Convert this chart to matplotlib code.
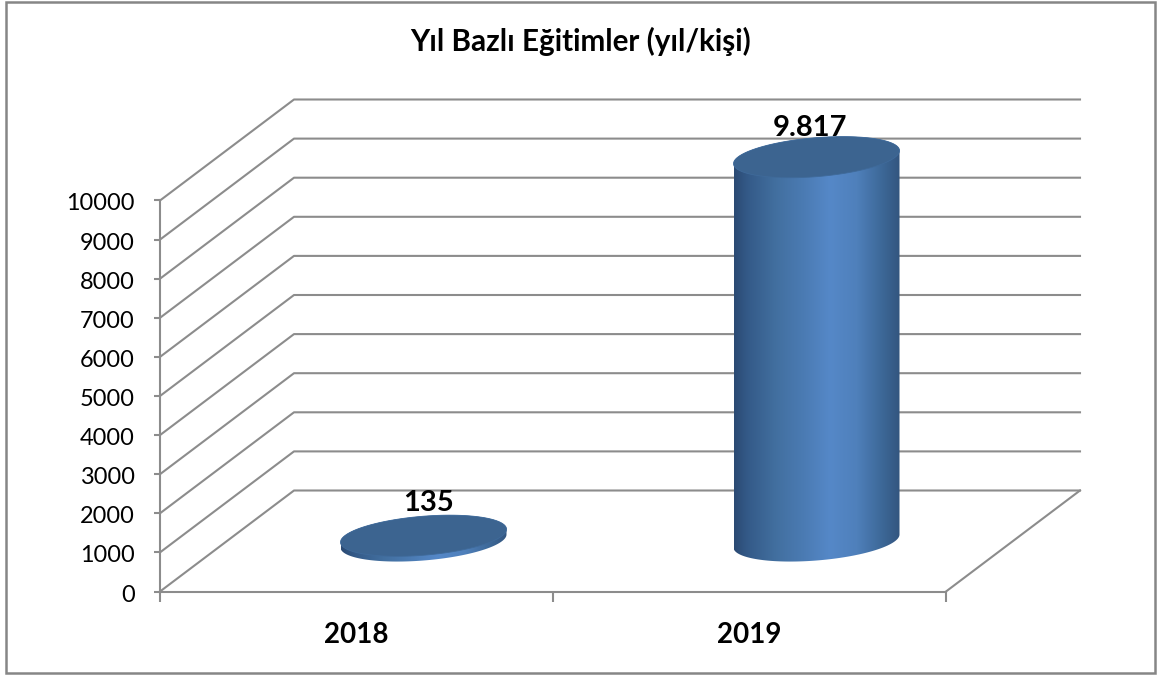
# -*- coding: utf-8 -*-
"""Yil bazli egitimler, 3D looking cylinder bars drawn on a flat axes"""
import numpy as np
import matplotlib
matplotlib.use('Agg')
import matplotlib.pyplot as plt
from matplotlib.colors import to_rgb
from matplotlib.patches import Polygon, Rectangle
from matplotlib.transforms import ScaledTranslation

years = ['2018', '2019']
values = [135, 9817]
value_labels = ['135', '9.817']
y_ticks = [0, 1000, 2000, 3000, 4000, 5000, 6000, 7000, 8000, 9000, 10000]
title = 'Yıl Bazlı Eğitimler (yıl/kişi)'

W, H = 1159, 675
grey = '#8c8c8c'
plt.rcParams['font.family'] = ['Lato', 'DejaVu Sans']

fig = plt.figure(figsize=(W / 100, H / 100), dpi=100)
fig.add_artist(Rectangle((6 / W, 2.5 / H), 1149 / W, 671 / H, transform=fig.transFigure,
                         fill=False, edgecolor='#868686', linewidth=1.8))

# axes = front plane of the chart
ax = fig.add_axes([160 / W, (H - 591.5) / H, 786 / W, 391 / H])
ax.set_facecolor('none')

px = 2 / 786  # x units per pixel
py = 10000 / 391  # y units per pixel
depth_x = 134 * px
depth_y = 101 * py

# walls and floor
for v in y_ticks:
    ax.plot([0, depth_x, 2 + depth_x], [v, v + depth_y, v + depth_y],
            color=grey, lw=1.5, clip_on=False, zorder=1)
ax.plot([2, 2 + depth_x], [0, depth_y], color=grey, lw=1.5, clip_on=False, zorder=1)

# gradient across the body of a cylinder
stops = [0, 0.08, 0.25, 0.42, 0.58, 0.74, 0.9, 1]
cols = [to_rgb(c) for c in ['#2b4a73', '#345a88', '#426f9f', '#4b7bb3', '#5588c8',
                            '#4f80bb', '#3c6796', '#33557f']]
g = np.linspace(0, 1, 256)
grad = np.array([[np.interp(s, stops, [c[i] for c in cols]) for i in range(3)] for s in g])[None, :, :]

half_w = 83 * px
skew = 6.5 * py
minor = 19.5 * py
t = np.linspace(0, 2 * np.pi, 241)


def ellipse(cx, cy):
    return np.column_stack([cx + half_w * np.cos(t),
                            cy + skew * np.cos(t) + minor * np.sin(t)])


label_offset = [33, 29]
for i, (val, lab) in enumerate(zip(values, value_labels)):
    cx = i + 0.5 + depth_x / 2
    base = depth_y / 2
    low = ellipse(cx, base)
    top = ellipse(cx, base + val)
    # outline of body = lower half of base + upper half of top
    lo = low[t >= np.pi]
    hi = top[t <= np.pi]
    body = Polygon(np.vstack([lo, hi]), closed=True, facecolor='none', edgecolor='none',
                   transform=ax.transData)
    ax.add_patch(body)
    im = ax.imshow(grad, extent=[cx - half_w, cx + half_w, base - minor * 1.5,
                                 base + val + minor * 1.5],
                   aspect='auto', zorder=3, interpolation='bilinear')
    im.set_clip_box(fig.bbox)
    im.set_clip_path(body)
    ax.add_patch(Polygon(top, closed=True, facecolor='#3c6490', edgecolor='#3f6a9a',
                         linewidth=0.6, zorder=4, clip_on=False))
    ax.annotate(lab, (cx, val + base), xytext=(5 if i == 0 else -6, label_offset[i]),
                textcoords='offset pixels', ha='center', va='center', fontsize=21,
                fontweight='bold', color='black', zorder=5, annotation_clip=False)

ax.set_xlim(0, 2)
ax.set_ylim(0, 10000)
for s in ['top', 'right']:
    ax.spines[s].set_visible(False)
for s in ['left', 'bottom']:
    ax.spines[s].set_color(grey)
    ax.spines[s].set_linewidth(1.5)

ax.set_yticks(y_ticks)
ax.set_yticklabels([str(v) for v in y_ticks], fontsize=16.9)
ax.tick_params(axis='y', length=4.3, width=1.5, color=grey, pad=14)
for lb in ax.get_yticklabels():
    lb.set_transform(lb.get_transform() + ScaledTranslation(0, -1.5 / 100, fig.dpi_scale_trans))

ax.set_xticks([0, 1, 2])
ax.set_xticklabels([])
ax.tick_params(axis='x', length=7, width=1.5, color=grey)
ax.set_xticks([0.5, 1.5], minor=True)
ax.set_xticklabels(years, minor=True, fontsize=20, fontweight='bold')
ax.tick_params(axis='x', which='minor', length=0, pad=22)

fig.text(581 / W, (H - 41) / H, title, ha='center', va='center', fontsize=21.3, fontweight='bold')

fig.savefig('out.png', dpi=100)
